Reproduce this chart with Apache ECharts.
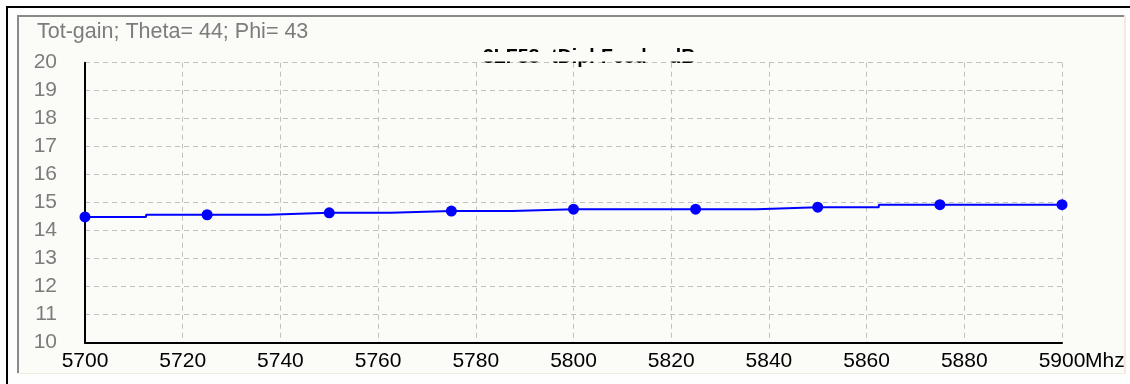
<!DOCTYPE html>
<html>
<head>
<meta charset="utf-8">
<script src="https://cdn.jsdelivr.net/npm/echarts@6/dist/echarts.min.js"></script>
<style>
  html, body { margin: 0; padding: 0; background: #fefefe; }
  #chart { width: 1130px; height: 384px; }
</style>
</head>
<body>
<div id="chart"></div>
<script>
// Frequency sweep points (Mhz) and total gain at each point
const freqs = [5700, 5725, 5750, 5775, 5800, 5825, 5850, 5875, 5900];
const gain = [14.49, 14.57, 14.64, 14.70, 14.77, 14.77, 14.84, 14.93, 14.93];

const headerText = 'Tot-gain; Theta= 44; Phi= 43';
const plotTitle = '3LF58 -tDipl-Feed   -dB';
const freqUnit = 'Mhz';

const FONT = '"Liberation Sans", Arial, sans-serif';
const PANEL_BG = '#fbfbf8';

const chart = echarts.init(document.getElementById('chart'), null, { renderer: 'canvas' });

chart.setOption({
  backgroundColor: '#fefefe',
  animation: false,
  grid: { left: 85, right: 68, top: 62.7, bottom: 41.3, containLabel: false, outerBoundsMode: 'none' },
  graphic: [
    // sunken window frame
    { type: 'rect', z: -10, shape: { x: 6, y: 6, width: 1124, height: 2 }, style: { fill: '#000' } },
    { type: 'rect', z: -10, shape: { x: 6, y: 6, width: 2, height: 378 }, style: { fill: '#000' } },
    // inner panel
    { type: 'rect', z: -9, shape: { x: 17, y: 15, width: 1109, height: 359 }, style: { fill: PANEL_BG } },
    { type: 'rect', z: -8, shape: { x: 17, y: 15, width: 1109, height: 2 }, style: { fill: '#8a8a8a' } },
    { type: 'rect', z: -8, shape: { x: 17, y: 15, width: 2, height: 359 }, style: { fill: '#8a8a8a' } },
    { type: 'rect', z: -8, shape: { x: 17, y: 373, width: 1109, height: 1 }, style: { fill: '#f1ebe0' } },
    { type: 'rect', z: -8, shape: { x: 1124, y: 15, width: 2, height: 359 }, style: { fill: '#f1ebe0' } },
    // header line
    { type: 'text', z: 5, left: 37, top: 21,
      style: { text: headerText, font: '21.5px ' + FONT, fill: '#7c7c7c' } },
    // plot title, mostly hidden behind the plot frame
    { type: 'text', z: 5, left: 483, top: 48,
      style: { text: plotTitle, font: 'bold 19.5px ' + FONT, fill: '#000' } },
    { type: 'rect', z: 6, shape: { x: 470, y: 52, width: 260, height: 9.5 }, style: { fill: PANEL_BG } }
  ],
  xAxis: {
    type: 'value',
    min: 5700,
    max: 5900,
    interval: 20,
    name: freqUnit,
    nameLocation: 'end',
    nameGap: 23,
    nameMoveOverlap: false,
    nameTextStyle: { fontFamily: FONT, fontSize: 21, color: '#000', verticalAlign: 'top', padding: [8, 0, 0, 0] },
    axisLine: { show: true, onZero: false, lineStyle: { color: '#000', width: 2 } },
    axisTick: { show: false },
    axisLabel: { margin: 8, fontFamily: FONT, fontSize: 21, color: '#000', formatter: v => String(v) },
    splitLine: { show: true, lineStyle: { color: '#c0c0c0', width: 1, type: [5, 4] } }
  },
  yAxis: {
    type: 'value',
    min: 10,
    max: 20,
    interval: 1,
    axisLine: { show: true, onZero: false, lineStyle: { color: '#000', width: 2 } },
    axisTick: { show: false },
    axisLabel: { margin: 28, fontFamily: FONT, fontSize: 21, color: '#7c7c7c', padding: [0, 0, 5, 0] },
    splitLine: { show: true, lineStyle: { color: '#c0c0c0', width: 1, type: [5, 4] } }
  },
  series: [{
    type: 'line',
    step: 'middle',
    data: freqs.map((f, i) => [f, gain[i]]),
    symbol: 'circle',
    symbolSize: 11,
    lineStyle: { color: '#0000ff', width: 2 },
    itemStyle: { color: '#0000ff' },
    z: 10
  }]
});
</script>
</body>
</html>
